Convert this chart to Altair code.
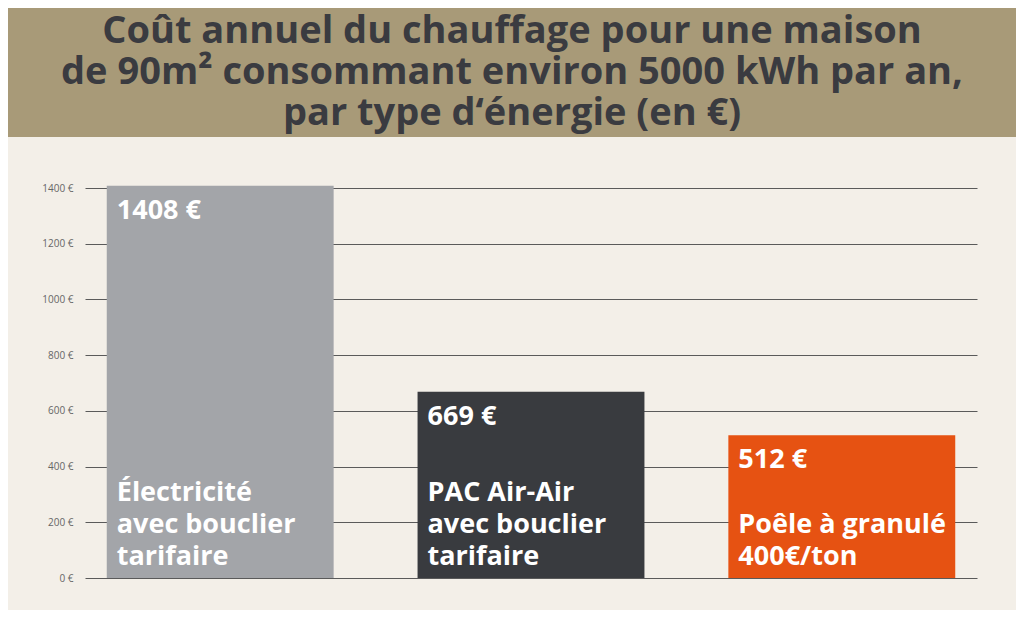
import altair as alt
import pandas as pd

categories = ["Électricité\navec bouclier\ntarifaire", "PAC Air-Air\navec bouclier\ntarifaire", "Poêle à granulé\n400€/ton"]
values = [1408, 669, 512]
value_labels = ["1408 €", "669 €", "512 €"]
bar_colors = ["#A3A5A9", "#393B3F", "#E65212"]
title_lines = [
    "Coût annuel du chauffage pour une maison",
    "de 90m² consommant environ 5000 kWh par an,",
    "par type d\u2018énergie (en €)",
]
y_ticks = [0, 200, 400, 600, 800, 1000, 1200, 1400]

df = pd.DataFrame({
    "cat": categories,
    "value": values,
    "vlabel": value_labels,
    "color": bar_colors,
    "zero": [0, 0, 0],
    "nlines": [c.count("\n") + 1 for c in categories],
})

W, H = 892, 390
FONT = "Open Sans"
LFS = 27
LH = 32

x = alt.X("cat:N", sort=categories, axis=None,
          scale=alt.Scale(paddingInner=0.27, paddingOuter=0.07))
y_scale = alt.Scale(domain=[0, 1400], nice=False)

bars = alt.Chart(df).mark_bar().encode(
    x=x,
    y=alt.Y("value:Q", scale=y_scale, title=None,
            axis=alt.Axis(values=y_ticks, labelExpr="datum.value + ' €'",
                          domain=False, ticks=False, grid=True,
                          gridColor="#5A5A5A", gridWidth=1, gridOpacity=1,
                          labelPadding=12, labelFontSize=10, labelColor="#666666",
                          labelFont=FONT)),
    color=alt.Color("color:N", scale=None),
)

val_text = alt.Chart(df).mark_text(
    align="left", baseline="alphabetic", dx=10, dy=33,
    font=FONT, fontWeight="bold", fontSize=LFS, color="white",
).encode(
    x=alt.X("cat:N", sort=categories, bandPosition=0),
    y=alt.Y("value:Q"),
    text="vlabel:N",
)

def cat_layer(n):
    return alt.Chart(df).transform_filter(alt.datum.nlines == n).mark_text(
        align="left", baseline="alphabetic", dx=10, dy=-13 - LH * (n - 1),
        lineBreak="\n", lineHeight=LH,
        font=FONT, fontWeight="bold", fontSize=LFS, color="white",
    ).encode(
        x=alt.X("cat:N", sort=categories, bandPosition=0),
        y=alt.Y("zero:Q"),
        text="cat:N",
    )

one = pd.DataFrame({"t": ["\n".join(title_lines)]})
header = alt.Chart(one).mark_rect(color="#A89A78").encode(
    x=alt.value(-77), x2=alt.value(W + 39),
    y=alt.value(-188), y2=alt.value(-51),
)
title = alt.Chart(one).mark_text(
    align="center", baseline="alphabetic", lineBreak="\n", lineHeight=41,
    font=FONT, fontWeight="bold", fontSize=38, color="#3A3B40",
).encode(
    x=alt.value(427), y=alt.value(-145), text="t:N",
)

chart = alt.layer(header, title, bars, val_text, cat_layer(3), cat_layer(2)).properties(
    width=W, height=H,
    padding={"left": 77, "top": 180, "right": 39, "bottom": 32},
    autosize=alt.AutoSizeParams(type="none"),
    background="#F3EFE8",
).configure_view(stroke=None)

chart.save("out.html", embed_options={"renderer": "svg", "actions": False})
